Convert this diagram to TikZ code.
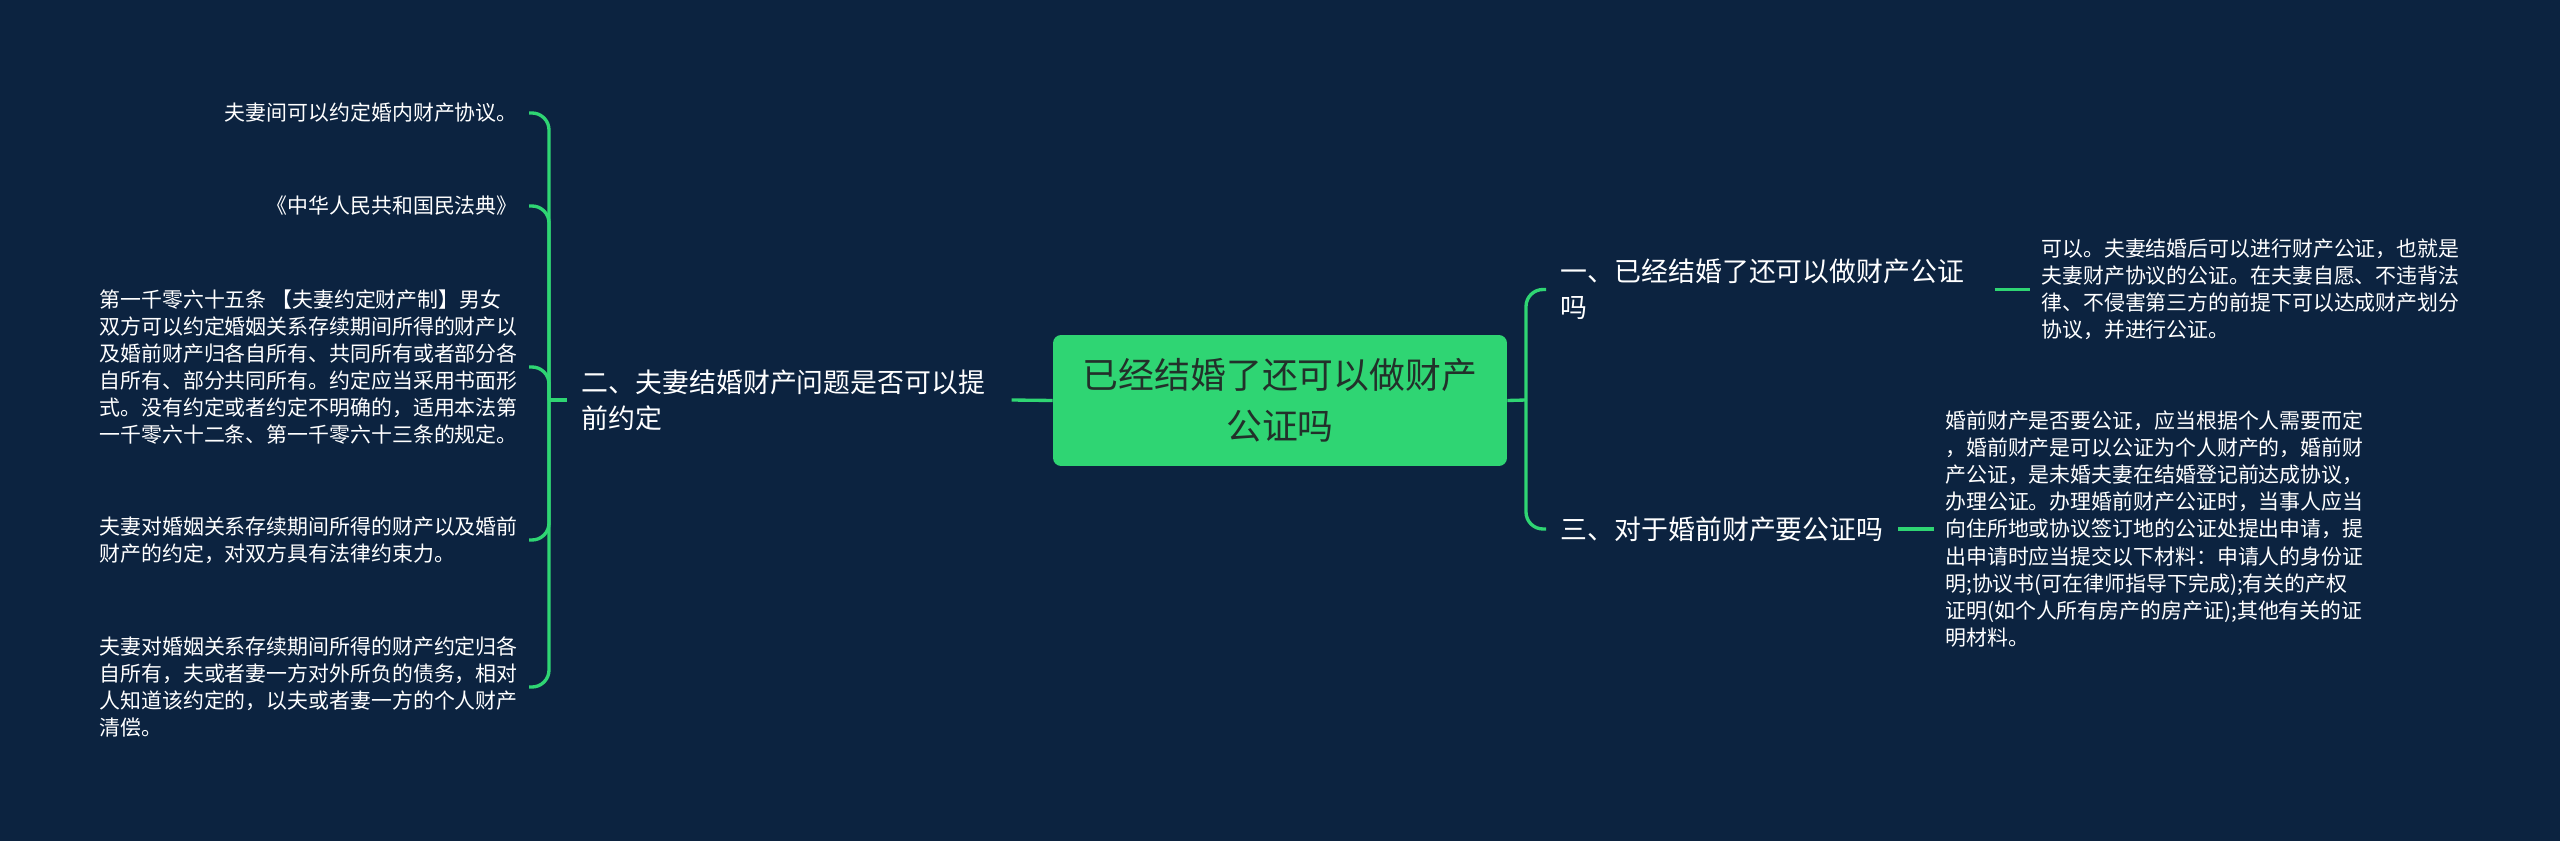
\documentclass[tikz,border=0pt]{standalone}
\usepackage{fontspec}
\newfontfamily\cjk{Noto Sans CJK SC}
\usepackage{tikz}
\usetikzlibrary{positioning}
\definecolor{navy}{HTML}{0C2340}
\definecolor{mapgreen}{HTML}{2FD573}
\definecolor{boxtext}{HTML}{22302A}

\begin{document}
\begin{tikzpicture}[
  x=0.02cm, y=-0.02cm,
  root/.style={fill=mapgreen, rounded corners=0.16cm, text=boxtext, align=center, minimum width=9.08cm, minimum height=2.62cm, font=\cjk\fontsize{20.4}{29}\selectfont},
  topic/.style={text=white, align=left, inner xsep=0.29cm, inner ysep=2pt, font=\cjk\fontsize{15.3}{20.5}\selectfont},
  leaf/.style={text=white, align=left, inner xsep=0.22cm, inner ysep=2pt, font=\cjk\fontsize{11.9}{15.4}\selectfont},
  link/.style={draw=mapgreen, line width=1.9pt, rounded corners=0.34cm},
]
% --- Background ---
\fill[navy] (0,0) rectangle (2560,841);
\useasboundingbox (0,0) rectangle (2560,841);

% --- Root ---
\node[root] (root) at (1280,400.5) {已经结婚了还可以做财产\\公证吗};

% --- Left branch ---
\coordinate (hubL) at (549,400);
\node[topic, text width=8.3cm, anchor=west] (t2) at (567,400) {二、夫妻结婚财产问题是否可以提\\前约定};
\node[leaf, anchor=east] (l1) at (529,113) {夫妻间可以约定婚内财产协议。};
\node[leaf, anchor=east] (l2) at (529,206) {《中华人民共和国民法典》};
\node[leaf, anchor=east] (l3) at (529,367) {第一千零六十五条 【夫妻约定财产制】男女\\双方可以约定婚姻关系存续期间所得的财产以\\及婚前财产归各自所有、共同所有或者部分各\\自所有、部分共同所有。约定应当采用书面形\\式。没有约定或者约定不明确的，适用本法第\\一千零六十二条、第一千零六十三条的规定。};
\node[leaf, anchor=east] (l4) at (529,540) {夫妻对婚姻关系存续期间所得的财产以及婚前\\财产的约定，对双方具有法律约束力。};
\node[leaf, anchor=east] (l5) at (529,687) {夫妻对婚姻关系存续期间所得的财产约定归各\\自所有，夫或者妻一方对外所负的债务，相对\\人知道该约定的，以夫或者妻一方的个人财产\\清偿。};

\draw[link] (root.west) -- (t2.east);
\draw[link] (t2.west) -- (hubL);
\foreach \n in {l1,l2,l3,l4,l5}
  \draw[link] (hubL) |- (\n.east);

% --- Right branch ---
\coordinate (hubR) at (1526,400);
\node[topic, text width=8.38cm, anchor=west] (t1) at (1546,289.5) {一、已经结婚了还可以做财产公证\\吗};
\node[topic, anchor=west] (t3) at (1546,529) {三、对于婚前财产要公证吗};
\node[leaf, anchor=west] (r1) at (2030,289.5) {可以。夫妻结婚后可以进行财产公证，也就是\\夫妻财产协议的公证。在夫妻自愿、不违背法\\律、不侵害第三方的前提下可以达成财产划分\\协议，并进行公证。};
\node[leaf, anchor=west] (r3) at (1934,529) {婚前财产是否要公证，应当根据个人需要而定\\，婚前财产是可以公证为个人财产的，婚前财\\产公证，是未婚夫妻在结婚登记前达成协议，\\办理公证。办理婚前财产公证时，当事人应当\\向住所地或协议签订地的公证处提出申请，提\\出申请时应当提交以下材料：申请人的身份证\\明;协议书(可在律师指导下完成);有关的产权\\证明(如个人所有房产的房产证);其他有关的证\\明材料。};

\draw[link] (root.east) -- (hubR);
\foreach \n in {t1,t3}
  \draw[link] (hubR) |- (\n.west);
\draw[link] (t1.east) -- (r1.west);
\draw[link] (t3.east) -- (r3.west);
\end{tikzpicture}
\end{document}
